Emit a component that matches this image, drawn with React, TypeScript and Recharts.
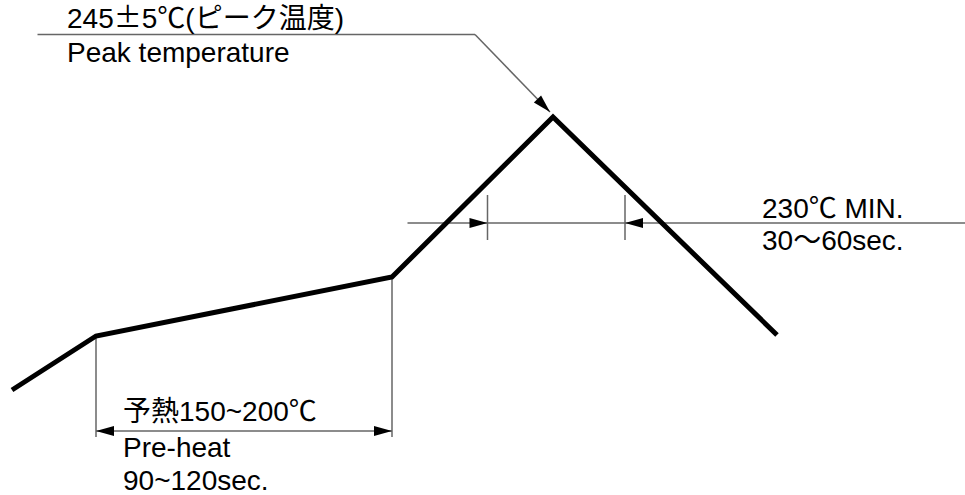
import { ComposedChart, Line, XAxis, YAxis, ReferenceLine, ReferenceDot } from 'recharts';

// schematic units: time axis 0..386, level axis 0..99
const profileTime = [4.8, 38.4, 156.8, 221.2, 310.8];
const profileTemp = [21, 31.8, 43.6, 75.6, 32];

const liquidusLevel = 54.4;
const liquidusStart = 163;
const liquidusEnd = 386;
const dwellTicks = [195, 250];
const dwellTickLow = 51;
const dwellTickHigh = 60;

const preheatStart = 38.4;
const preheatEnd = 156.8;
const preheatLevel = 12.8;
const preheatFoot = 11.6;

const leaderStart = 15;
const leaderBend = 190;
const leaderLevel = 92.1;
const peakArrowTime = 220;
const peakArrowLevel = 76.6;

const labelTexts = [
  '245±5℃(ピーク温度)',
  'Peak temperature',
  '230℃  MIN.',
  '30～60sec.',
  '予熱150~200℃',
  'Pre-heat',
  '90~120sec.',
];
const labelTime = [26.8, 26.8, 304.8, 304.8, 49.2, 49.2, 49.2];
const labelLevel = [93.4, 86.6, 55.4, 49, 14.8, 7.6, 1];

const data = profileTime.map((t, i) => ({ t, temp: profileTemp[i] }));

const GRAY = '#666';
const FONT = '"Liberation Sans", Arial, "Noto Sans CJK JP", sans-serif';
const CJK = '"Noto Sans CJK JP", sans-serif';

function head(x: number, y: number, fx: number, fy: number, len = 18, half = 5) {
  const dx = x - fx;
  const dy = y - fy;
  const d = Math.sqrt(dx * dx + dy * dy) || 1;
  const ux = dx / d;
  const uy = dy / d;
  const bx = x - ux * len;
  const by = y - uy * len;
  return `${x},${y} ${bx - uy * half},${by + ux * half} ${bx + uy * half},${by - ux * half}`;
}

// thin gray line, optional arrowheads at ends
const seg = (arrowStart = false, arrowEnd = false, drawLine = true) => (p: any) => {
  const { x1, y1, x2, y2 } = p;
  return (
    <g>
      {drawLine && <line x1={x1} y1={y1} x2={x2} y2={y2} stroke={GRAY} strokeWidth={1.5} />}
      {arrowStart && <polygon points={head(x1, y1, x2, y2)} fill="#000" />}
      {arrowEnd && <polygon points={head(x2, y2, x1, y1)} fill="#000" />}
    </g>
  );
};

// the ± sign is set in the CJK font (wide glyph like the original)
function renderLabel(txt: string) {
  const parts = txt.split('±');
  if (parts.length === 1) return txt;
  return (
    <>
      {parts[0]}
      <tspan fontFamily={CJK}>±</tspan>
      {parts[1]}
    </>
  );
}

export default function App() {
  return (
    <div style={{ position: 'absolute', left: 0, top: 0, background: '#fff' }}>
      <ComposedChart width={965} height={495} data={data} margin={{ top: 0, right: 0, bottom: 0, left: 0 }}>
        <XAxis dataKey="t" type="number" domain={[0, 386]} hide />
        <YAxis type="number" domain={[0, 99]} hide />

        {/* 230C line + dwell ticks */}
        <ReferenceLine segment={[{ x: liquidusStart, y: liquidusLevel }, { x: liquidusEnd, y: liquidusLevel }]} shape={seg()} />
        {dwellTicks.map((t) => (
          <ReferenceLine key={t} segment={[{ x: t, y: dwellTickLow }, { x: t, y: dwellTickHigh }]} shape={seg()} />
        ))}
        <ReferenceLine segment={[{ x: dwellTicks[0] - 7.5, y: liquidusLevel }, { x: dwellTicks[0], y: liquidusLevel }]} shape={seg(false, true, false)} />
        <ReferenceLine segment={[{ x: dwellTicks[1] + 7.5, y: liquidusLevel }, { x: dwellTicks[1], y: liquidusLevel }]} shape={seg(false, true, false)} />

        {/* pre-heat dimension */}
        <ReferenceLine segment={[{ x: preheatStart, y: profileTemp[1] }, { x: preheatStart, y: preheatFoot }]} shape={seg()} />
        <ReferenceLine segment={[{ x: preheatEnd, y: profileTemp[2] }, { x: preheatEnd, y: preheatFoot }]} shape={seg()} />
        <ReferenceLine segment={[{ x: preheatStart, y: preheatLevel }, { x: preheatEnd, y: preheatLevel }]} shape={seg(true, true)} />

        {/* peak leader */}
        <ReferenceLine segment={[{ x: leaderStart, y: leaderLevel }, { x: leaderBend, y: leaderLevel }]} shape={seg()} />
        <ReferenceLine segment={[{ x: leaderBend, y: leaderLevel }, { x: peakArrowTime, y: peakArrowLevel }]} shape={seg(false, true)} />

        <Line
          type="linear"
          dataKey="temp"
          stroke="#000"
          strokeWidth={5}
          dot={false}
          activeDot={false}
          strokeLinejoin="miter"
          isAnimationActive={false}
        />

        {labelTexts.map((txt, i) => (
          <ReferenceDot
            key={txt}
            x={labelTime[i]}
            y={labelLevel[i]}
            r={0}
            shape={(p: any) => (
              <text x={p.cx} y={p.cy} fontFamily={FONT} fontSize={28} fill="#000">
                {renderLabel(txt)}
              </text>
            )}
          />
        ))}
      </ComposedChart>
    </div>
  );
}
